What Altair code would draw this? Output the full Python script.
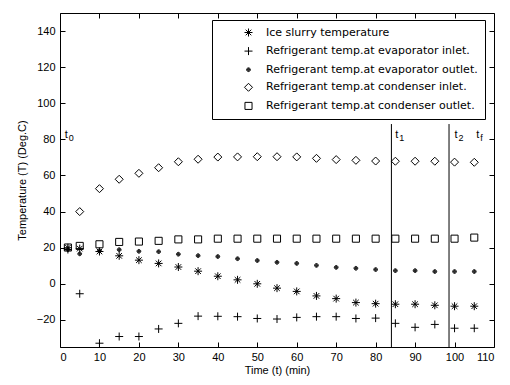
import altair as alt
import pandas as pd

series = [
    "Ice slurry temperature",
    "Refrigerant temp.at evaporator inlet.",
    "Refrigerant temp.at evaporator outlet.",
    "Refrigerant temp.at condenser inlet.",
    "Refrigerant temp.at condenser outlet.",
]
times = [2, 5, 10, 15, 20, 25, 30, 35, 40, 45, 50, 55, 60, 65, 70, 75, 80, 85, 90, 95, 100, 105]
ice = [20, 19.5, 17.9, 15.5, 13.1, 11.3, 9.3, 7, 4.2, 2.2, 0, -2.4, -4.2, -6.7, -8.2, -10.4, -11, -11.3, -11.3, -11.9, -12.4, -12.4]
evap_in = [19, -5.5, -32.9, -29.2, -29.2, -25, -21.9, -17.9, -18, -18.2, -19.2, -19.5, -18.6, -18.2, -18.2, -19.2, -19, -21.9, -24.1, -22.5, -24.6, -24.6]
evap_out = [19, 16.6, 18.2, 18.9, 18, 17.8, 16.4, 15.6, 15.1, 13.9, 12.9, 11.9, 11.3, 10.2, 9.1, 8.6, 7.9, 7.3, 7.3, 6.8, 6.8, 6.8]
cond_in = [None, 40, 52.7, 57.9, 61.2, 64.3, 67.6, 69, 70.2, 70.3, 70.4, 70.4, 70.3, 69.5, 68.8, 68.4, 68, 67.9, 67.9, 67.9, 67.4, 67.3]
cond_out = [20.1, 21, 21.9, 23.2, 23.4, 23.8, 24.6, 24.6, 25, 25, 25, 25, 25, 25, 25, 25, 25, 25, 25, 25, 25, 25.6]

rule_x = [84, 98.6]
rule_top = [88.5, 88.5]
rule_bottom = [-35, -35]

label_x = [1.2, 85, 100, 105.5]
label_y = [81, 81, 81, 81]
label_main = ["t", "t", "t", "t"]
label_sub = ["0", "1", "2", "f"]

x_ticks = [0, 10, 20, 30, 40, 50, 60, 70, 80, 90, 100, 110]
y_ticks = [-20, 0, 20, 40, 60, 80, 100, 120, 140]

rows = []
for name, vals in zip(series, [ice, evap_in, evap_out, cond_in, cond_out]):
    for t, v in zip(times, vals):
        if v is not None:
            rows.append({"time": t, "temp": v, "series": name})
df = pd.DataFrame(rows)
rdf = pd.DataFrame({"x": rule_x, "y1": rule_bottom, "y2": rule_top})
ldf = pd.DataFrame({"x": label_x, "y": label_y, "main": label_main, "sub": label_sub})

W, H = 434, 334
FONT = "Liberation Sans"
XS = alt.Scale(domain=[0, 110], nice=False, zero=False)
YS = alt.Scale(domain=[-35, 150], nice=False, zero=False)

ASTER = "M-1,0H1M0,-1V1M-0.7,-0.7L0.7,0.7M-0.7,0.7L0.7,-0.7"
PLUS = "M-1,0H1M0,-1V1"
DOT = ("M-1,0A1,1,0,1,1,1,0A1,1,0,1,1,-1,0Z"
       "M-0.6,0A0.6,0.6,0,1,1,0.6,0A0.6,0.6,0,1,1,-0.6,0Z"
       "M-0.25,0A0.25,0.25,0,1,1,0.25,0A0.25,0.25,0,1,1,-0.25,0Z")

points = alt.Chart(df).mark_point(filled=False, strokeWidth=1, opacity=1, color="black").encode(
    x=alt.X("time:Q", scale=XS, axis=alt.Axis(orient="bottom", values=x_ticks, title="Time (t) (min)",
                                             ticks=False, tickSize=0, domain=False, labelPadding=4, titlePadding=2)),
    y=alt.Y("temp:Q", scale=YS, axis=alt.Axis(orient="left", values=y_ticks, title="Temperature (T) (Deg.C)",
                                             ticks=False, tickSize=0, domain=False, labelPadding=5, titlePadding=9)),
    shape=alt.Shape("series:N", scale=alt.Scale(domain=series, range=[ASTER, PLUS, DOT, "diamond", "square"]),
                    title=None),
    size=alt.Size("series:N", scale=alt.Scale(type="ordinal", domain=series, range=[64, 64, 14, 64, 50]),
                  title=None),
)

rules = alt.Chart(rdf).mark_rule(color="black", strokeWidth=1).encode(
    x=alt.X("x:Q", scale=XS, axis=alt.Axis(orient="top", offset=-H, values=x_ticks, labels=False, title=None,
                                          domain=False, ticks=True, tickSize=5, tickColor="black")),
    y=alt.Y("y1:Q", scale=YS, axis=alt.Axis(orient="right", offset=-W, values=y_ticks, labels=False, title=None,
                                           domain=False, ticks=True, tickSize=5, tickColor="black")),
    y2="y2:Q",
)

main_txt = alt.Chart(ldf).mark_text(align="left", baseline="alphabetic", font=FONT, fontSize=11, color="black").encode(
    x=alt.X("x:Q", scale=XS, axis=alt.Axis(orient="bottom", offset=-H, values=x_ticks, labels=False, title=None,
                                          domain=False, ticks=True, tickSize=5, tickColor="black")),
    y=alt.Y("y:Q", scale=YS, axis=alt.Axis(orient="left", offset=-W, values=y_ticks, labels=False, title=None,
                                          domain=False, ticks=True, tickSize=5, tickColor="black")),
    text="main:N",
)

sub_txt = alt.Chart(ldf).mark_text(align="left", baseline="alphabetic", font=FONT, fontSize=9, color="black", dx=4, dy=3).encode(
    x=alt.X("x:Q", scale=XS, axis=None),
    y=alt.Y("y:Q", scale=YS, axis=None),
    text="sub:N",
)

chart = alt.layer(points, rules, main_txt, sub_txt).resolve_axis(
    x="independent", y="independent"
).properties(
    width=W, height=H,
    padding={"left": 52, "top": 5, "right": 8, "bottom": 30},
    autosize=alt.AutoSizeParams(type="none"),
).configure_view(
    stroke="black", strokeWidth=1
).configure_axis(
    labelFont=FONT, labelFontSize=11, labelColor="black",
    titleFont=FONT, titleFontSize=11, titleFontWeight="normal", titleColor="black",
    grid=False, tickColor="black",
).configure_legend(
    orient="none", legendX=152, legendY=7, strokeColor="black", fillColor="white",
    padding=7, labelFont="DejaVu Sans", labelFontSize=11, labelColor="black", labelLimit=400,
    symbolStrokeColor="black", symbolStrokeWidth=1, rowPadding=5.6, symbolOffset=24, labelOffset=12,
)

chart.save("out.html", embed_options={"renderer": "svg", "actions": False})
